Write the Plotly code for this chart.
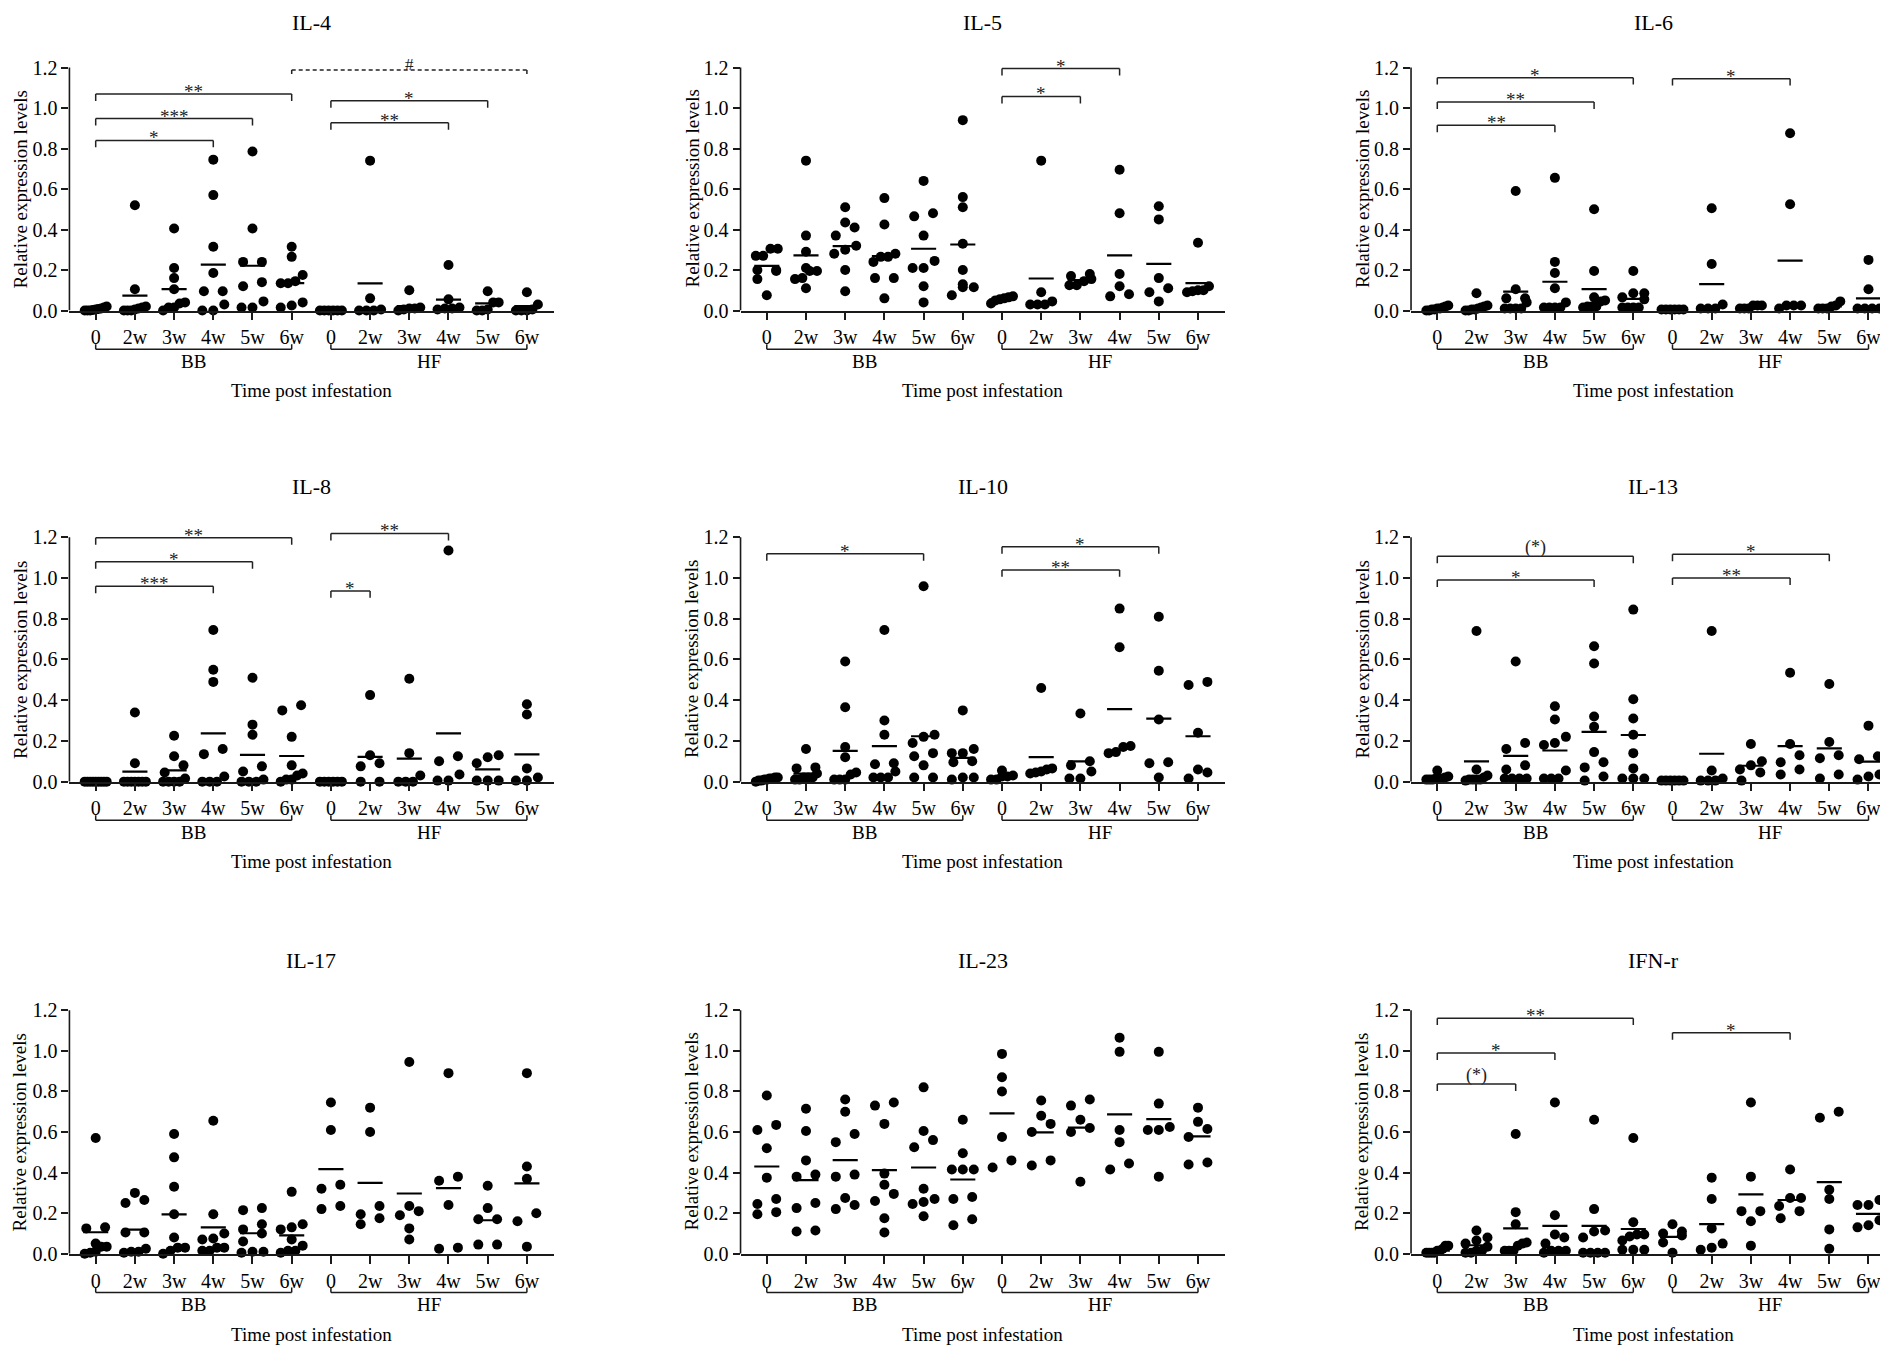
import plotly.graph_objects as go

# ---------------- data ----------------
CATEGORIES = ["0", "2w", "3w", "4w", "5w", "6w"]
GROUPS = ["BB", "HF"]
Y_TICKS = [0.0, 0.2, 0.4, 0.6, 0.8, 1.0, 1.2]
Y_TICK_TEXT = ["0.0", "0.2", "0.4", "0.6", "0.8", "1.0", "1.2"]
X_TITLE = "Time post infestation"
Y_TITLE = "Relative expression levels"

# IL-4
IL4_BB = [[0.02, 0.015, 0.01, 0.008, 0.005, 0.003, 0.0, 0.0, 0.0],
          [0.52, 0.105, 0.02, 0.015, 0.01, 0.005, 0.0, 0.0, 0.0],
          [0.405, 0.21, 0.16, 0.105, 0.04, 0.035, 0.015, 0.015, 0.0],
          [0.745, 0.57, 0.315, 0.185, 0.095, 0.095, 0.03, 0.0, 0.0],
          [0.785, 0.405, 0.24, 0.24, 0.14, 0.12, 0.045, 0.015, 0.015],
          [0.315, 0.265, 0.175, 0.145, 0.135, 0.135, 0.04, 0.025, 0.015]]
IL4_HF = [[0.0, 0.0, 0.0, 0.0, 0.0, 0.0],
          [0.74, 0.06, 0.005, 0.0, 0.0, 0.0],
          [0.1, 0.015, 0.01, 0.01, 0.005, 0.0],
          [0.225, 0.055, 0.015, 0.01, 0.01, 0.005],
          [0.095, 0.04, 0.04, 0.005, 0.0, 0.0],
          [0.09, 0.03, 0.005, 0.0, 0.0, 0.0]]
IL4_MEAN_BB = [0.005, 0.074, 0.106, 0.227, 0.221, 0.135]
IL4_MEAN_HF = [0.0, 0.134, 0.022, 0.054, 0.035, 0.022]
IL4_SIG = [(0, 3, 0.84, "*", False), (0, 4, 0.948, "***", False), (0, 5, 1.069, "**", False),
           (6, 9, 0.927, "**", False), (6, 10, 1.036, "*", False), (5, 11, 1.188, "#", True)]

# IL-5
IL5_BB = [[0.305, 0.305, 0.27, 0.27, 0.2, 0.2, 0.195, 0.155, 0.075],
          [0.74, 0.37, 0.29, 0.21, 0.195, 0.195, 0.16, 0.155, 0.11],
          [0.51, 0.435, 0.41, 0.37, 0.32, 0.3, 0.28, 0.2, 0.095],
          [0.555, 0.425, 0.28, 0.265, 0.265, 0.24, 0.16, 0.16, 0.06],
          [0.64, 0.48, 0.465, 0.37, 0.245, 0.21, 0.21, 0.12, 0.04],
          [0.94, 0.56, 0.51, 0.33, 0.2, 0.13, 0.115, 0.115, 0.075]]
IL5_HF = [[0.07, 0.065, 0.06, 0.055, 0.05, 0.035],
          [0.74, 0.09, 0.045, 0.03, 0.03, 0.03],
          [0.18, 0.17, 0.155, 0.145, 0.125, 0.125],
          [0.695, 0.48, 0.18, 0.12, 0.08, 0.07],
          [0.515, 0.45, 0.16, 0.11, 0.09, 0.045],
          [0.335, 0.12, 0.1, 0.1, 0.095, 0.09]]
IL5_MEAN_BB = [0.22, 0.272, 0.318, 0.269, 0.305, 0.326]
IL5_MEAN_HF = [0.055, 0.158, 0.15, 0.272, 0.23, 0.135]
IL5_SIG = [(6, 8, 1.057, "*", False), (6, 9, 1.195, "*", False)]

# IL-6
IL6_BB = [[0.025, 0.02, 0.015, 0.01, 0.01, 0.005, 0.005, 0.0, 0.0],
          [0.085, 0.025, 0.02, 0.015, 0.01, 0.005, 0.005, 0.0, 0.0],
          [0.59, 0.105, 0.06, 0.06, 0.04, 0.01, 0.01, 0.01, 0.01],
          [0.655, 0.24, 0.185, 0.11, 0.04, 0.015, 0.015, 0.015, 0.015],
          [0.5, 0.195, 0.065, 0.05, 0.045, 0.02, 0.02, 0.02, 0.015],
          [0.195, 0.085, 0.085, 0.065, 0.055, 0.015, 0.015, 0.015, 0.015]]
IL6_HF = [[0.005, 0.005, 0.005, 0.005, 0.005, 0.005],
          [0.505, 0.23, 0.03, 0.01, 0.01, 0.01],
          [0.025, 0.025, 0.025, 0.01, 0.01, 0.01],
          [0.875, 0.525, 0.025, 0.025, 0.025, 0.01],
          [0.045, 0.025, 0.02, 0.01, 0.01, 0.01],
          [0.25, 0.105, 0.01, 0.01, 0.01, 0.01]]
IL6_MEAN_BB = [0.01, 0.015, 0.093, 0.142, 0.106, 0.057]
IL6_MEAN_HF = [0.003, 0.13, 0.015, 0.246, 0.02, 0.06]
IL6_SIG = [(0, 3, 0.915, "**", False), (0, 4, 1.03, "**", False), (0, 5, 1.15, "*", False),
           (6, 9, 1.145, "*", False)]

# IL-8
IL8_BB = [[0.0, 0.0, 0.0, 0.0, 0.0, 0.0, 0.0, 0.0, 0.0],
          [0.34, 0.09, 0.0, 0.0, 0.0, 0.0, 0.0, 0.0, 0.0],
          [0.225, 0.125, 0.08, 0.045, 0.015, 0.0, 0.0, 0.0, 0.0],
          [0.745, 0.55, 0.49, 0.16, 0.135, 0.025, 0.0, 0.0, 0.0],
          [0.51, 0.28, 0.23, 0.075, 0.05, 0.01, 0.0, 0.0, 0.0],
          [0.375, 0.35, 0.22, 0.08, 0.04, 0.03, 0.01, 0.01, 0.0]]
IL8_HF = [[0.0, 0.0, 0.0, 0.0, 0.0, 0.0],
          [0.425, 0.13, 0.09, 0.075, 0.0, 0.0],
          [0.505, 0.14, 0.03, 0.0, 0.0, 0.0],
          [1.135, 0.125, 0.1, 0.035, 0.005, 0.005],
          [0.13, 0.12, 0.09, 0.005, 0.005, 0.005],
          [0.38, 0.33, 0.065, 0.02, 0.005, 0.005]]
IL8_MEAN_BB = [0.0, 0.049, 0.055, 0.237, 0.131, 0.126]
IL8_MEAN_HF = [0.0, 0.122, 0.113, 0.237, 0.06, 0.134]
IL8_SIG = [(0, 3, 0.96, "***", False), (0, 4, 1.08, "*", False), (0, 5, 1.198, "**", False),
           (6, 7, 0.937, "*", False), (6, 9, 1.219, "**", False)]

# IL-10
IL10_BB = [[0.02, 0.02, 0.015, 0.015, 0.01, 0.01, 0.005, 0.005, 0.0],
           [0.16, 0.07, 0.065, 0.04, 0.02, 0.02, 0.02, 0.01, 0.01],
           [0.59, 0.365, 0.17, 0.12, 0.045, 0.035, 0.01, 0.01, 0.01],
           [0.745, 0.3, 0.23, 0.09, 0.085, 0.05, 0.02, 0.02, 0.02],
           [0.96, 0.23, 0.22, 0.19, 0.14, 0.125, 0.08, 0.02, 0.02],
           [0.35, 0.16, 0.14, 0.14, 0.1, 0.095, 0.02, 0.02, 0.01]]
IL10_HF = [[0.055, 0.03, 0.025, 0.025, 0.01, 0.01],
           [0.46, 0.065, 0.06, 0.05, 0.045, 0.04],
           [0.335, 0.1, 0.08, 0.05, 0.015, 0.015],
           [0.85, 0.66, 0.175, 0.17, 0.145, 0.14],
           [0.81, 0.545, 0.305, 0.095, 0.09, 0.02],
           [0.49, 0.475, 0.24, 0.06, 0.045, 0.015]]
IL10_MEAN_BB = [0.01, 0.039, 0.151, 0.174, 0.223, 0.117]
IL10_MEAN_HF = [0.022, 0.12, 0.1, 0.356, 0.31, 0.223]
IL10_SIG = [(0, 4, 1.119, "*", False), (6, 9, 1.04, "**", False), (6, 10, 1.154, "*", False)]

# IL-13
IL13_BB = [[0.055, 0.025, 0.02, 0.015, 0.015, 0.015, 0.01, 0.01, 0.01],
           [0.74, 0.06, 0.03, 0.02, 0.01, 0.01, 0.01, 0.01, 0.005],
           [0.59, 0.19, 0.16, 0.08, 0.06, 0.015, 0.015, 0.015, 0.015],
           [0.37, 0.305, 0.22, 0.19, 0.18, 0.055, 0.015, 0.015, 0.015],
           [0.665, 0.58, 0.32, 0.27, 0.145, 0.095, 0.07, 0.025, 0.005],
           [0.845, 0.405, 0.31, 0.23, 0.14, 0.065, 0.015, 0.015, 0.015]]
IL13_HF = [[0.005, 0.005, 0.005, 0.005, 0.005, 0.005],
           [0.74, 0.055, 0.015, 0.005, 0.005, 0.005],
           [0.185, 0.1, 0.08, 0.06, 0.045, 0.005],
           [0.535, 0.185, 0.13, 0.095, 0.06, 0.035],
           [0.48, 0.195, 0.13, 0.115, 0.035, 0.015],
           [0.275, 0.125, 0.11, 0.035, 0.025, 0.01]]
IL13_MEAN_BB = [0.02, 0.1, 0.127, 0.153, 0.244, 0.229]
IL13_MEAN_HF = [0.003, 0.137, 0.078, 0.174, 0.163, 0.098]
IL13_SIG = [(0, 4, 0.99, "*", False), (0, 5, 1.107, "(*)", False),
            (6, 9, 1.0, "**", False), (6, 10, 1.117, "*", False)]

# IL-17
IL17_BB = [[0.57, 0.13, 0.125, 0.05, 0.035, 0.035, 0.01, 0.005, 0.0],
           [0.3, 0.265, 0.25, 0.105, 0.105, 0.025, 0.01, 0.01, 0.005],
           [0.59, 0.475, 0.33, 0.195, 0.08, 0.03, 0.03, 0.015, 0.0],
           [0.655, 0.195, 0.1, 0.075, 0.07, 0.03, 0.03, 0.015, 0.015],
           [0.225, 0.215, 0.145, 0.12, 0.1, 0.06, 0.01, 0.01, 0.005],
           [0.305, 0.145, 0.13, 0.12, 0.07, 0.04, 0.015, 0.015, 0.005]]
IL17_HF = [[0.745, 0.61, 0.34, 0.32, 0.235, 0.22],
           [0.72, 0.6, 0.235, 0.195, 0.175, 0.145],
           [0.945, 0.235, 0.21, 0.19, 0.125, 0.07],
           [0.89, 0.38, 0.36, 0.24, 0.03, 0.025],
           [0.335, 0.225, 0.17, 0.17, 0.045, 0.045],
           [0.89, 0.43, 0.37, 0.2, 0.16, 0.035]]
IL17_MEAN_BB = [0.106, 0.119, 0.194, 0.13, 0.101, 0.091]
IL17_MEAN_HF = [0.417, 0.349, 0.297, 0.323, 0.165, 0.347]
IL17_SIG = []

# IL-23
IL23_BB = [[0.78, 0.635, 0.61, 0.52, 0.375, 0.27, 0.245, 0.205, 0.195],
           [0.715, 0.605, 0.46, 0.39, 0.38, 0.25, 0.225, 0.115, 0.11],
           [0.76, 0.7, 0.59, 0.55, 0.39, 0.38, 0.275, 0.24, 0.22],
           [0.745, 0.73, 0.64, 0.395, 0.34, 0.295, 0.26, 0.175, 0.105],
           [0.82, 0.605, 0.56, 0.525, 0.32, 0.27, 0.255, 0.245, 0.185],
           [0.66, 0.495, 0.415, 0.415, 0.415, 0.28, 0.27, 0.17, 0.14]]
IL23_HF = [[0.985, 0.87, 0.8, 0.575, 0.46, 0.425],
           [0.755, 0.68, 0.64, 0.6, 0.46, 0.435],
           [0.76, 0.73, 0.66, 0.62, 0.6, 0.355],
           [1.065, 0.995, 0.61, 0.55, 0.445, 0.415],
           [0.995, 0.74, 0.625, 0.61, 0.61, 0.38],
           [0.72, 0.65, 0.615, 0.575, 0.45, 0.44]]
IL23_MEAN_BB = [0.43, 0.363, 0.461, 0.412, 0.425, 0.366]
IL23_MEAN_HF = [0.692, 0.598, 0.622, 0.687, 0.663, 0.578]
IL23_SIG = []

# IFN-r
IFN_BB = [[0.04, 0.04, 0.025, 0.015, 0.015, 0.005, 0.005, 0.005, 0.005],
          [0.115, 0.08, 0.065, 0.05, 0.035, 0.015, 0.015, 0.005, 0.005],
          [0.59, 0.205, 0.145, 0.055, 0.05, 0.04, 0.015, 0.015, 0.015],
          [0.745, 0.19, 0.095, 0.08, 0.05, 0.015, 0.015, 0.015, 0.005],
          [0.66, 0.22, 0.115, 0.11, 0.08, 0.005, 0.005, 0.005, 0.005],
          [0.57, 0.155, 0.095, 0.095, 0.085, 0.065, 0.02, 0.02, 0.02]]
IFN_HF = [[0.145, 0.11, 0.1, 0.09, 0.055, 0.005],
          [0.375, 0.27, 0.125, 0.05, 0.03, 0.02],
          [0.745, 0.38, 0.21, 0.21, 0.16, 0.04],
          [0.415, 0.275, 0.275, 0.235, 0.21, 0.175],
          [0.7, 0.67, 0.315, 0.27, 0.12, 0.025],
          [0.265, 0.24, 0.24, 0.165, 0.14, 0.13]]
IFN_MEAN_BB = [0.015, 0.042, 0.125, 0.137, 0.137, 0.122]
IFN_MEAN_HF = [0.083, 0.146, 0.293, 0.265, 0.353, 0.197]
IFN_SIG = [(0, 2, 0.836, "(*)", False), (0, 3, 0.989, "*", False), (0, 5, 1.161, "**", False),
           (6, 9, 1.089, "*", False)]

PANELS = [
    ("IL-4", IL4_BB, IL4_HF, IL4_MEAN_BB, IL4_MEAN_HF, IL4_SIG),
    ("IL-5", IL5_BB, IL5_HF, IL5_MEAN_BB, IL5_MEAN_HF, IL5_SIG),
    ("IL-6", IL6_BB, IL6_HF, IL6_MEAN_BB, IL6_MEAN_HF, IL6_SIG),
    ("IL-8", IL8_BB, IL8_HF, IL8_MEAN_BB, IL8_MEAN_HF, IL8_SIG),
    ("IL-10", IL10_BB, IL10_HF, IL10_MEAN_BB, IL10_MEAN_HF, IL10_SIG),
    ("IL-13", IL13_BB, IL13_HF, IL13_MEAN_BB, IL13_MEAN_HF, IL13_SIG),
    ("IL-17", IL17_BB, IL17_HF, IL17_MEAN_BB, IL17_MEAN_HF, IL17_SIG),
    ("IL-23", IL23_BB, IL23_HF, IL23_MEAN_BB, IL23_MEAN_HF, IL23_SIG),
    ("IFN-r", IFN_BB, IFN_HF, IFN_MEAN_BB, IFN_MEAN_HF, IFN_SIG),
]

# ---------------- layout geometry (pixels) ----------------
W, H = 1888, 1348
FONT = "Liberation Serif"
COL_CAT0 = [87.7, 758.8, 1429.3]
CAT_STEP = 39.2
ROW_Y0 = [305.0, 780.0, 1256.0]
ROW_Y12 = [60.0, 533.7, 1010.5]
TITLE_TOP = [0.0, 468.0, 946.0]   # top of the title text box, px from top
XR = [-0.67, 11.68]
YTOP = 1.26
DOT_PX = 9.0
MEAN_HALF = 0.32
LINE_COL = "#1a1a1a"
BR_COL = "#222222"
LABEL_SHIFT = {"*": 2.5, "**": 2.5, "***": 2.5, "#": 5, "(*)": 9}
LABEL_SIZE = {"*": 19, "**": 19, "***": 19, "#": 17, "(*)": 18}
TICK_SIZE = 20


def swarm(vals, thr, pair=0.24, maxhalf=0.28):
    order = sorted(range(len(vals)), key=lambda i: vals[i])
    rows = []
    for i in order:
        if rows and vals[i] - vals[rows[-1][0]] < thr:
            rows[-1].append(i)
        else:
            rows.append([i])
    off = [0.0] * len(vals)
    for r in rows:
        n = len(r)
        if n < 2:
            continue
        half = pair if n == 2 else maxhalf
        for k, i in enumerate(r):
            off[i] = -half + 2 * half * k / (n - 1)
    return off


fig = go.Figure()
shapes = []
annotations = []
layout_axes = {}

for k, (title, bb, hf, mbb, mhf, sig) in enumerate(PANELS):
    r, c = divmod(k, 3)
    n = k + 1
    xa = "x" if n == 1 else f"x{n}"
    ya = "y" if n == 1 else f"y{n}"
    xname = "xaxis" if n == 1 else f"xaxis{n}"
    yname = "yaxis" if n == 1 else f"yaxis{n}"

    cat0 = COL_CAT0[c]
    x0px = cat0 + XR[0] * CAT_STEP
    x1px = cat0 + XR[1] * CAT_STEP
    wpx = x1px - x0px
    y0px = ROW_Y0[r]
    per = (ROW_Y0[r] - ROW_Y12[r]) / 1.2
    ytop_px = y0px - YTOP * per
    hpx = y0px - ytop_px

    series = bb + hf
    means = mbb + mhf

    xs, ys = [], []
    for i, vals in enumerate(series):
        offs = swarm(vals, DOT_PX / per)
        xs += [i + o for o in offs]
        ys += list(vals)
    fig.add_trace(go.Scatter(x=xs, y=ys, xaxis=xa, yaxis=ya, mode="markers",
                             marker=dict(size=10, color="black", line=dict(width=0)),
                             cliponaxis=False, hoverinfo="skip", showlegend=False))
    mx, my = [], []
    for i, m in enumerate(means):
        mx += [i - MEAN_HALF, i + MEAN_HALF, None]
        my += [m, m, None]
    fig.add_trace(go.Scatter(x=mx, y=my, xaxis=xa, yaxis=ya, mode="lines",
                             line=dict(color="black", width=2.2),
                             hoverinfo="skip", showlegend=False))

    layout_axes[xname] = dict(
        domain=[x0px / W, x1px / W], anchor=ya, range=XR,
        tickmode="array", tickvals=list(range(12)), ticktext=CATEGORIES + CATEGORIES,
        ticks="outside", ticklen=8, tickwidth=1.6, tickcolor=LINE_COL,
        showline=True, linecolor=LINE_COL, linewidth=1.6,
        showgrid=False, zeroline=False, fixedrange=True,
        tickfont=dict(family=FONT, size=TICK_SIZE, color="black"))
    layout_axes[yname] = dict(
        domain=[1 - y0px / H, 1 - ytop_px / H], anchor=xa, range=[0, YTOP],
        tickmode="array", tickvals=Y_TICKS, ticktext=Y_TICK_TEXT,
        ticks="outside", ticklen=7, tickwidth=1.6, tickcolor=LINE_COL,
        showline=False, showgrid=False, zeroline=False, fixedrange=True,
        tickfont=dict(family=FONT, size=TICK_SIZE, color="black"))

    # y spine (stops at 1.2)
    shapes.append(dict(type="line", xref=f"{xa} domain", yref=ya, x0=0, x1=0,
                       y0=0, y1=Y_TICKS[-1], line=dict(color=LINE_COL, width=1.6)))

    # group brackets under the axis
    yb = -39.0 / hpx
    yt = -34.0 / hpx
    for g, gname in enumerate(GROUPS):
        a, b = 6 * g, 6 * g + 5
        for (xx0, yy0, xx1, yy1) in [(a, yb, b, yb), (a, yb, a, yt), (b, yb, b, yt)]:
            shapes.append(dict(type="line", xref=xa, yref=f"{ya} domain",
                               x0=xx0, y0=yy0, x1=xx1, y1=yy1,
                               line=dict(color=LINE_COL, width=1.5)))
        annotations.append(dict(text=gname, xref=xa, yref=f"{ya} domain",
                                x=(a + b) / 2, y=-51.0 / hpx, showarrow=False,
                                xanchor="center", yanchor="middle",
                                font=dict(family=FONT, size=19, color="black")))

    # significance brackets
    tick = 7.0 / per
    for (a, b, lev, lab, dashed) in sig:
        dash = "4px,3px" if dashed else "solid"
        for (xx0, yy0, xx1, yy1) in [(a, lev, b, lev), (a, lev, a, lev - tick), (b, lev, b, lev - tick)]:
            shapes.append(dict(type="line", xref=xa, yref=ya, x0=xx0, y0=yy0, x1=xx1, y1=yy1,
                               line=dict(color=BR_COL, width=1.5, dash=dash)))
        annotations.append(dict(text=lab, xref=xa, yref=ya, x=(a + b) / 2, y=lev,
                                showarrow=False, xanchor="center", yanchor="middle",
                                yshift=LABEL_SHIFT.get(lab, 3),
                                font=dict(family=FONT, size=LABEL_SIZE.get(lab, 19),
                                          color="#222222")))

    # titles
    annotations.append(dict(text=title, xref=f"{xa} domain", yref="paper", x=0.5,
                            y=1 - TITLE_TOP[r] / H, showarrow=False, xanchor="center",
                            yanchor="top", font=dict(family=FONT, size=22, color="black")))
    annotations.append(dict(text=Y_TITLE, xref=f"{xa} domain", yref=ya, x=-49.0 / wpx,
                            y=0.6, showarrow=False, xanchor="center", yanchor="middle",
                            textangle=-90, font=dict(family=FONT, size=19, color="black")))
    annotations.append(dict(text=X_TITLE, xref=f"{xa} domain", yref=f"{ya} domain", x=0.5,
                            y=-81.0 / hpx, showarrow=False, xanchor="center", yanchor="middle",
                            font=dict(family=FONT, size=19, color="black")))

fig.update_layout(
    width=W, height=H, margin=dict(l=0, r=0, t=0, b=0, pad=0),
    paper_bgcolor="white", plot_bgcolor="white", showlegend=False,
    font=dict(family=FONT, color="black"),
    shapes=shapes, annotations=annotations, **layout_axes)

fig.write_html("out.html")
